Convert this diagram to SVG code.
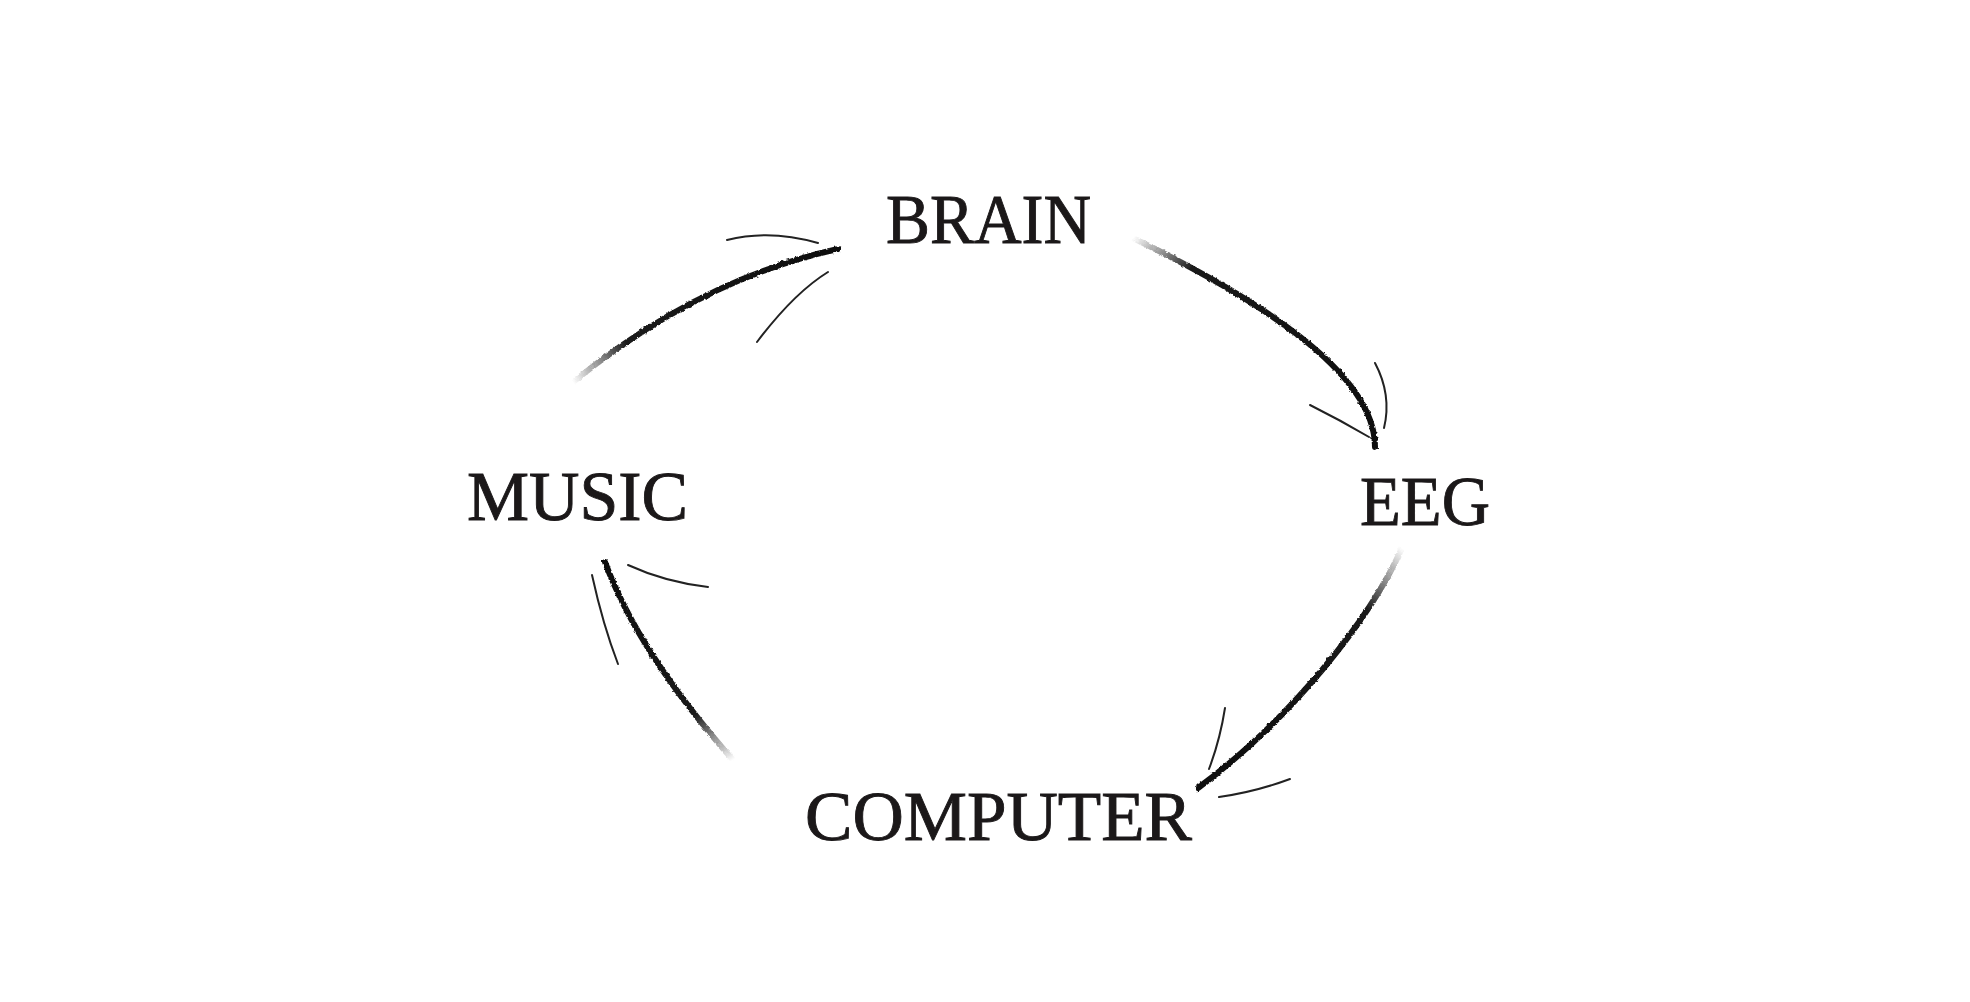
<svg xmlns="http://www.w3.org/2000/svg" width="1970" height="1002" viewBox="0 0 1970 1002">
  <style>
    .label { font-family: "Liberation Serif", "Times New Roman", serif; font-size: 70px; fill: #1b1819; stroke: #1b1819; stroke-width: 0.9; }
    .main { fill: none; stroke-width: 6; stroke-linecap: round; }
    .barb { fill: none; stroke: #222; stroke-width: 2; stroke-linecap: round; }
  </style>
  <defs>
    <filter id="rough" x="-10%" y="-10%" width="120%" height="120%">
      <feTurbulence type="fractalNoise" baseFrequency="0.35" numOctaves="2" seed="3" result="n"/>
      <feDisplacementMap in="SourceGraphic" in2="n" scale="3" xChannelSelector="R" yChannelSelector="G"/>
    </filter>
    <linearGradient id="g1" gradientUnits="userSpaceOnUse" x1="573" y1="382" x2="838" y2="249">
      <stop offset="0" stop-color="#111" stop-opacity="0"/>
      <stop offset="0.22" stop-color="#111" stop-opacity="0.95"/>
      <stop offset="1" stop-color="#111" stop-opacity="1"/>
    </linearGradient>
    <linearGradient id="g2" gradientUnits="userSpaceOnUse" x1="1133" y1="238" x2="1375" y2="447">
      <stop offset="0" stop-color="#111" stop-opacity="0"/>
      <stop offset="0.2" stop-color="#111" stop-opacity="0.95"/>
      <stop offset="1" stop-color="#111" stop-opacity="1"/>
    </linearGradient>
    <linearGradient id="g3" gradientUnits="userSpaceOnUse" x1="1402" y1="548" x2="1198" y2="788">
      <stop offset="0" stop-color="#111" stop-opacity="0"/>
      <stop offset="0.22" stop-color="#111" stop-opacity="0.95"/>
      <stop offset="1" stop-color="#111" stop-opacity="1"/>
    </linearGradient>
    <linearGradient id="g4" gradientUnits="userSpaceOnUse" x1="733" y1="760" x2="605" y2="562">
      <stop offset="0" stop-color="#111" stop-opacity="0"/>
      <stop offset="0.25" stop-color="#111" stop-opacity="0.95"/>
      <stop offset="1" stop-color="#111" stop-opacity="1"/>
    </linearGradient>
  </defs>
  <rect width="1970" height="1002" fill="#ffffff"/>

  <g id="connectors">
    <g id="music-to-brain">
      <path class="main" stroke="url(#g1)" filter="url(#rough)" d="M573,382 Q700,279 838,249"/>
      <path class="barb" d="M727,240 Q770,229 818,243"/>
      <path class="barb" d="M828,272 Q794,293 757,342"/>
    </g>
    <g id="brain-to-eeg">
      <path class="main" stroke="url(#g2)" filter="url(#rough)" d="M1133,238 C1250,295 1375,370 1375,447"/>
      <path class="barb" d="M1375,363 Q1392,395 1384,428"/>
      <path class="barb" d="M1310,405 Q1340,420 1369,437"/>
    </g>
    <g id="eeg-to-computer">
      <path class="main" stroke="url(#g3)" filter="url(#rough)" d="M1402,548 C1370,620 1290,720 1198,788"/>
      <path class="barb" d="M1225,708 Q1220,740 1209,769"/>
      <path class="barb" d="M1219,797 Q1255,792 1290,779"/>
    </g>
    <g id="computer-to-music">
      <path class="main" stroke="url(#g4)" filter="url(#rough)" d="M733,760 C680,700 630,630 605,562"/>
      <path class="barb" d="M592,575 Q603,625 618,664"/>
      <path class="barb" d="M628,565 Q665,582 708,587"/>
    </g>
  </g>

  <g id="node-brain">
    <text class="label" x="886" y="243" textLength="205" lengthAdjust="spacingAndGlyphs">BRAIN</text>
  </g>
  <g id="node-eeg">
    <text class="label" x="1360" y="525" textLength="130" lengthAdjust="spacingAndGlyphs">EEG</text>
  </g>
  <g id="node-computer">
    <text class="label" x="805" y="840" textLength="387" lengthAdjust="spacingAndGlyphs">COMPUTER</text>
  </g>
  <g id="node-music">
    <text class="label" x="467" y="520" textLength="221" lengthAdjust="spacingAndGlyphs">MUSIC</text>
  </g>
</svg>
